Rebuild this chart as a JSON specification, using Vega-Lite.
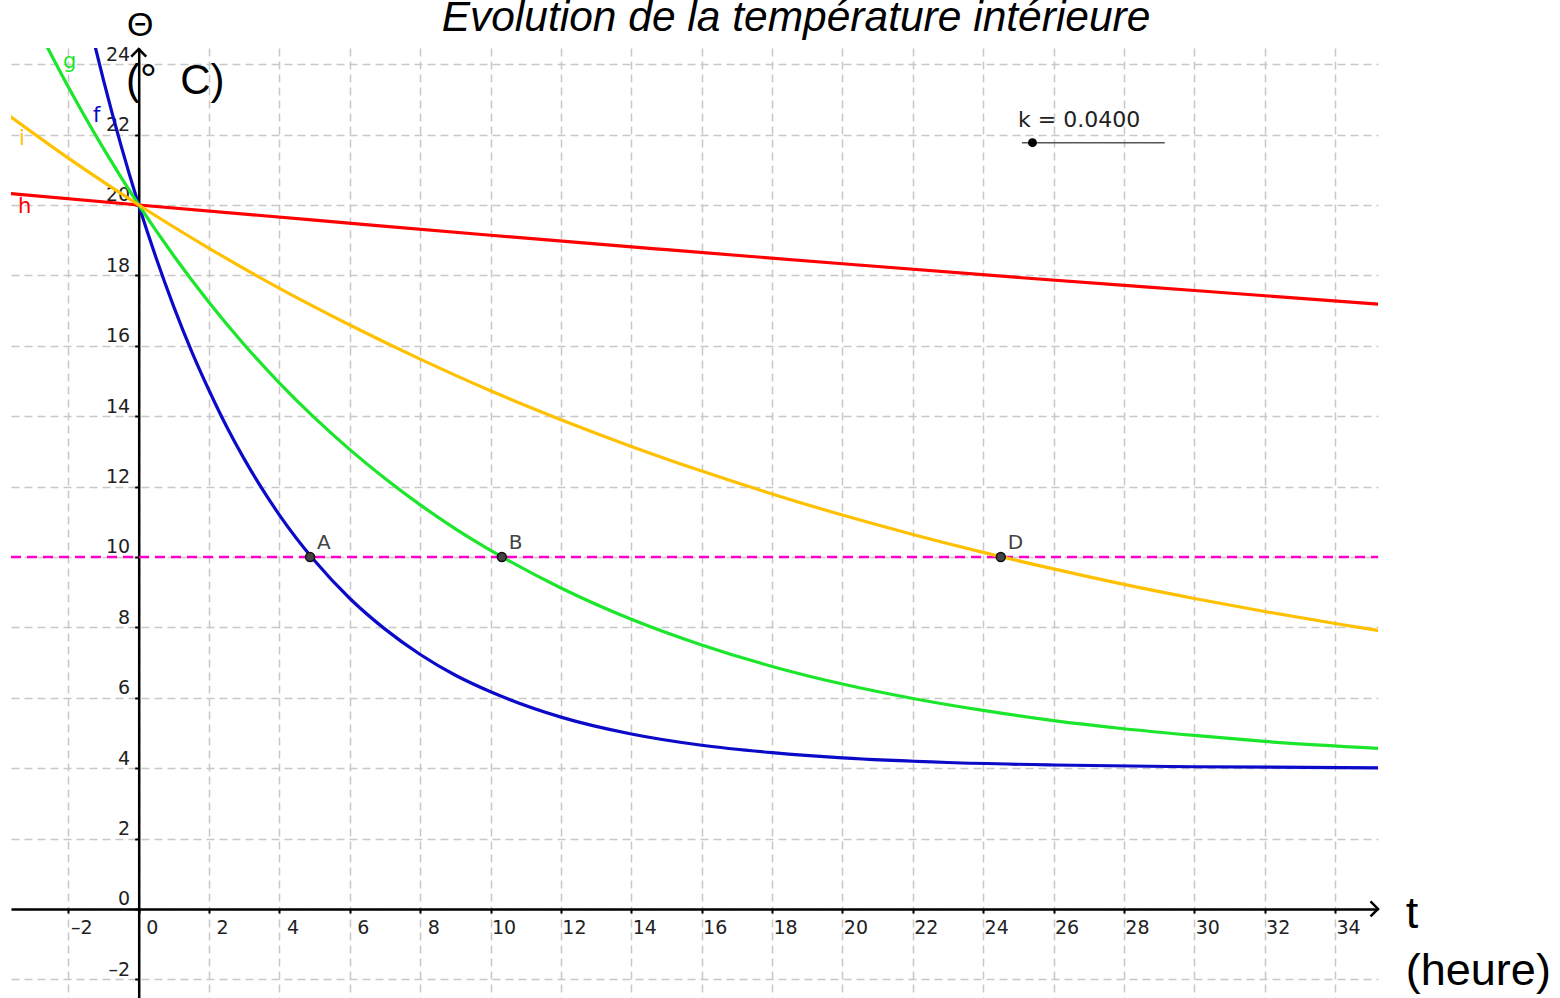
{
  "$schema": "https://vega.github.io/schema/vega-lite/v6.json",
  "width": 1367,
  "height": 950,
  "autosize": {"type": "none"},
  "padding": {"left": 11, "top": 48, "right": 182, "bottom": 0},
  "background": "white",
  "config": {"view": {"stroke": null}},
  "datasets": {
    "curves": [
      {"curve": "f", "t": -1.3, "temp": 24.75}, {"curve": "f", "t": -1, "temp": 23.54}, {"curve": "f", "t": -0.5, "temp": 21.68},
      {"curve": "f", "t": 0, "temp": 20}, {"curve": "f", "t": 0.5, "temp": 18.48}, {"curve": "f", "t": 1, "temp": 17.10},
      {"curve": "f", "t": 1.5, "temp": 15.85}, {"curve": "f", "t": 2, "temp": 14.73}, {"curve": "f", "t": 2.5, "temp": 13.70},
      {"curve": "f", "t": 3, "temp": 12.78}, {"curve": "f", "t": 3.5, "temp": 11.95}, {"curve": "f", "t": 4, "temp": 11.19},
      {"curve": "f", "t": 5, "temp": 9.89}, {"curve": "f", "t": 6, "temp": 8.82}, {"curve": "f", "t": 7, "temp": 7.95},
      {"curve": "f", "t": 8, "temp": 7.23}, {"curve": "f", "t": 9, "temp": 6.64}, {"curve": "f", "t": 10, "temp": 6.17},
      {"curve": "f", "t": 12, "temp": 5.45}, {"curve": "f", "t": 14, "temp": 4.97}, {"curve": "f", "t": 16, "temp": 4.65},
      {"curve": "f", "t": 18, "temp": 4.44}, {"curve": "f", "t": 20, "temp": 4.29}, {"curve": "f", "t": 23, "temp": 4.16},
      {"curve": "f", "t": 26, "temp": 4.09}, {"curve": "f", "t": 30, "temp": 4.04}, {"curve": "f", "t": 35.3, "temp": 4.01},
      {"curve": "g", "t": -2.7, "temp": 24.68}, {"curve": "g", "t": -2, "temp": 23.35}, {"curve": "g", "t": -1, "temp": 21.60},
      {"curve": "g", "t": 0, "temp": 20}, {"curve": "g", "t": 1, "temp": 18.55}, {"curve": "g", "t": 2, "temp": 17.23},
      {"curve": "g", "t": 3, "temp": 16.03}, {"curve": "g", "t": 4, "temp": 14.94}, {"curve": "g", "t": 5, "temp": 13.95},
      {"curve": "g", "t": 6, "temp": 13.05}, {"curve": "g", "t": 7, "temp": 12.23}, {"curve": "g", "t": 8, "temp": 11.48},
      {"curve": "g", "t": 9, "temp": 10.80}, {"curve": "g", "t": 10, "temp": 10.19}, {"curve": "g", "t": 12, "temp": 9.12},
      {"curve": "g", "t": 14, "temp": 8.23}, {"curve": "g", "t": 16, "temp": 7.50}, {"curve": "g", "t": 18, "temp": 6.89},
      {"curve": "g", "t": 20, "temp": 6.39}, {"curve": "g", "t": 22, "temp": 5.98}, {"curve": "g", "t": 24, "temp": 5.64},
      {"curve": "g", "t": 26, "temp": 5.35}, {"curve": "g", "t": 28, "temp": 5.12}, {"curve": "g", "t": 30, "temp": 4.93},
      {"curve": "g", "t": 32, "temp": 4.76}, {"curve": "g", "t": 35.3, "temp": 4.56},
      {"curve": "h", "t": -3.7, "temp": 20.33}, {"curve": "h", "t": 0, "temp": 20}, {"curve": "h", "t": 5, "temp": 19.57},
      {"curve": "h", "t": 10, "temp": 19.14}, {"curve": "h", "t": 15, "temp": 18.73}, {"curve": "h", "t": 20, "temp": 18.33},
      {"curve": "h", "t": 25, "temp": 17.94}, {"curve": "h", "t": 30, "temp": 17.57}, {"curve": "h", "t": 35.3, "temp": 17.18},
      {"curve": "i", "t": -3.7, "temp": 22.55}, {"curve": "i", "t": -2, "temp": 21.33}, {"curve": "i", "t": 0, "temp": 20},
      {"curve": "i", "t": 2, "temp": 18.77}, {"curve": "i", "t": 4, "temp": 17.63}, {"curve": "i", "t": 6, "temp": 16.59},
      {"curve": "i", "t": 8, "temp": 15.62}, {"curve": "i", "t": 10, "temp": 14.72}, {"curve": "i", "t": 12, "temp": 13.90},
      {"curve": "i", "t": 14, "temp": 13.14}, {"curve": "i", "t": 16, "temp": 12.44}, {"curve": "i", "t": 18, "temp": 11.79},
      {"curve": "i", "t": 20, "temp": 11.19}, {"curve": "i", "t": 22, "temp": 10.64}, {"curve": "i", "t": 24, "temp": 10.13},
      {"curve": "i", "t": 26, "temp": 9.66}, {"curve": "i", "t": 28, "temp": 9.22}, {"curve": "i", "t": 30, "temp": 8.82},
      {"curve": "i", "t": 32, "temp": 8.45}, {"curve": "i", "t": 34, "temp": 8.11}, {"curve": "i", "t": 35.3, "temp": 7.90}
    ],
    "points": [
      {"label": "A", "t": 4.87, "temp": 10},
      {"label": "B", "t": 10.32, "temp": 10},
      {"label": "D", "t": 24.5, "temp": 10}
    ],
    "curveLabels": [
      {"curve": "g", "t": -2.15, "temp": 23.89},
      {"curve": "f", "t": -1.30, "temp": 22.36},
      {"curve": "i", "t": -3.40, "temp": 21.70},
      {"curve": "h", "t": -3.43, "temp": 19.77}
    ],
    "level": [{"t": -3.63, "temp": 10}, {"t": 35.22, "temp": 10}],
    "slider": [{"t": 25.10, "temp": 21.77}, {"t": 29.16, "temp": 21.77}]
  },
  "encoding": {
    "x": {
      "field": "t", "type": "quantitative",
      "scale": {"domain": [-3.63, 35.22], "nice": false, "zero": false},
      "axis": {
        "title": null, "orient": "bottom", "offset": -89,
        "values": [-2, 0, 2, 4, 6, 8, 10, 12, 14, 16, 18, 20, 22, 24, 26, 28, 30, 32, 34],
        "format": "d",
        "labelExpr": "replace(datum.label, '−', '–')",
        "grid": true, "gridColor": "#c8c8c8", "gridDash": [8, 5], "gridWidth": 1.5,
        "domainColor": "#000000", "domainWidth": 2.5,
        "tickColor": "#000000", "tickSize": 4, "tickWidth": 2,
        "labelFont": "DejaVu Sans", "labelFontSize": 19, "labelColor": "#222222",
        "labelAlign": "center", "labelBaseline": "alphabetic", "labelPadding": 20,
        "labelOffset": 13,
        "labelFlush": false, "labelOverlap": false, "labelBound": false
      }
    },
    "y": {
      "field": "temp", "type": "quantitative",
      "scale": {"domain": [-2.53, 24.46], "nice": false, "zero": false},
      "axis": {
        "title": null, "orient": "left", "offset": -127.7,
        "values": [-2, 0, 2, 4, 6, 8, 10, 12, 14, 16, 18, 20, 22, 24],
        "format": "d",
        "labelExpr": "replace(datum.label, '−', '–')",
        "grid": true, "gridColor": "#c8c8c8", "gridDash": [8, 5], "gridWidth": 1.5,
        "domainColor": "#000000", "domainWidth": 2.5,
        "tickColor": "#000000", "tickSize": 4, "tickWidth": 2,
        "labelFont": "DejaVu Sans", "labelFontSize": 19, "labelColor": "#222222",
        "labelAlign": "right", "labelBaseline": "alphabetic", "labelPadding": 5, "labelOffset": -4,
        "labelFlush": false, "labelOverlap": false, "labelBound": false
      }
    }
  },
  "layer": [
    {
      "data": {"name": "level"},
      "mark": {"type": "line", "color": "#ff00c8", "strokeWidth": 2.5, "strokeDash": [10, 6], "clip": true}
    },
    {
      "data": {"name": "curves"},
      "mark": {"type": "line", "strokeWidth": 3.2, "interpolate": "monotone", "clip": true},
      "encoding": {
        "color": {"field": "curve", "type": "nominal",
          "scale": {"domain": ["f", "g", "h", "i"], "range": ["#0a0ac8", "#1be62b", "#ff0000", "#ffc000"]},
          "legend": null}
      }
    },
    {
      "data": {"name": "points"},
      "mark": {"type": "point", "filled": true, "shape": "circle", "size": 80, "fill": "#444444", "stroke": "#111111", "strokeWidth": 1.5, "opacity": 1}
    },
    {
      "data": {"name": "points"},
      "mark": {"type": "text", "font": "DejaVu Sans", "fontSize": 20, "color": "#444444", "align": "left", "baseline": "alphabetic", "dx": 7, "dy": -8},
      "encoding": {"text": {"field": "label"}}
    },
    {
      "data": {"name": "curveLabels"},
      "mark": {"type": "text", "font": "DejaVu Sans", "fontSize": 21, "align": "left", "baseline": "alphabetic"},
      "encoding": {
        "text": {"field": "curve"},
        "color": {"field": "curve", "type": "nominal",
          "scale": {"domain": ["f", "g", "h", "i"], "range": ["#0a0ac8", "#1be62b", "#ff0000", "#ffc000"]},
          "legend": null}
      }
    },
    {
      "data": {"name": "slider"},
      "mark": {"type": "line", "color": "#555555", "strokeWidth": 1.5}
    },
    {
      "data": {"values": [{"t": 25.40, "temp": 21.77}]},
      "mark": {"type": "point", "filled": true, "shape": "circle", "size": 80, "color": "#000000", "opacity": 1}
    },
    {
      "data": {"values": [{"t": 24.99, "temp": 22.22, "label": "k = 0.0400"}]},
      "mark": {"type": "text", "font": "DejaVu Sans", "fontSize": 22, "color": "#222222", "align": "left", "baseline": "alphabetic"},
      "encoding": {"text": {"field": "label"}}
    },
    {
      "data": {"values": [{"t": 35.22, "temp": 0}]},
      "mark": {"type": "point", "shape": "M -1 -1 L 0 0 L -1 1", "size": 225, "filled": false, "stroke": "#000000", "strokeWidth": 2.5, "opacity": 1}
    },
    {
      "data": {"values": [{"t": 0, "temp": 24.43}]},
      "mark": {"type": "point", "shape": "M -1 1 L 0 0 L 1 1", "size": 225, "filled": false, "stroke": "#000000", "strokeWidth": 2.5, "opacity": 1}
    },
    {
      "data": {"values": [{"t": 0.04, "temp": 24.8, "label": "Θ"}]},
      "mark": {"type": "text", "font": "Liberation Sans", "fontSize": 34, "color": "#000000", "align": "center", "baseline": "alphabetic"},
      "encoding": {"text": {"field": "label"}}
    },
    {
      "data": {"values": [{"t": -0.36, "temp": 23.15, "label": "(°\u00a0\u00a0C)"}]},
      "mark": {"type": "text", "font": "Liberation Sans", "fontSize": 42, "color": "#000000", "align": "left", "baseline": "alphabetic"},
      "encoding": {"text": {"field": "label"}}
    },
    {
      "data": {"values": [{"t": 36.01, "temp": -0.54, "label": "t"}, {"t": 36.01, "temp": -2.16, "label": "(heure)"}]},
      "mark": {"type": "text", "font": "Liberation Sans", "fontSize": 45, "color": "#000000", "align": "left", "baseline": "alphabetic"},
      "encoding": {"text": {"field": "label"}}
    },
    {
      "data": {"values": [{"t": 18.68, "temp": 24.94, "label": "Evolution de la température intérieure"}]},
      "mark": {"type": "text", "font": "Liberation Sans", "fontSize": 42.5, "fontStyle": "italic", "color": "#000000", "align": "center", "baseline": "alphabetic"},
      "encoding": {"text": {"field": "label"}}
    }
  ]
}
